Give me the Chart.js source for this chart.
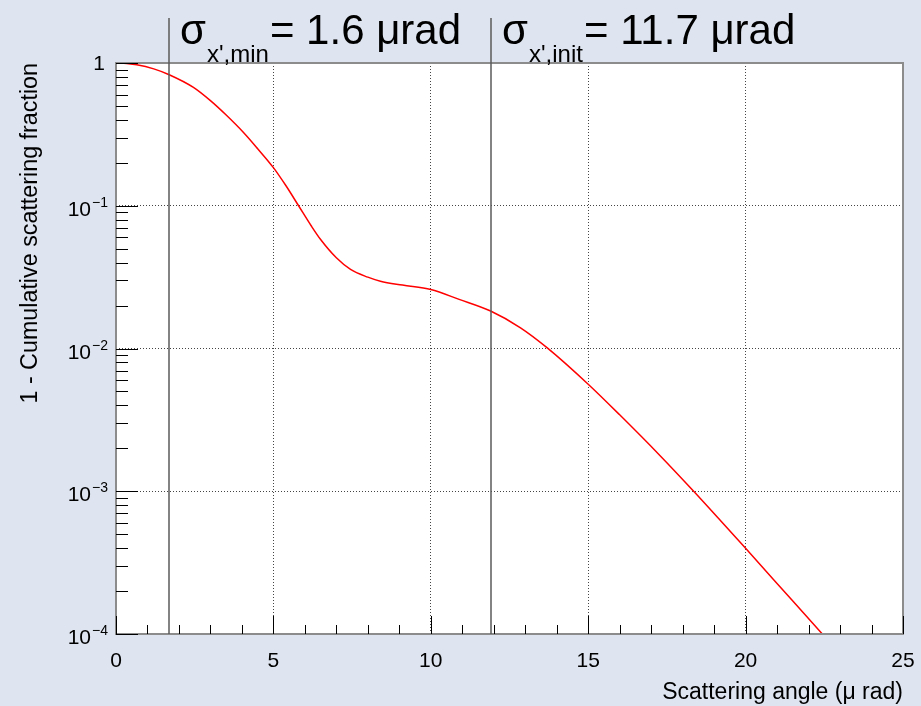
<!DOCTYPE html>
<html>
<head>
<meta charset="utf-8">
<script src="https://cdn.jsdelivr.net/npm/chart.js@4.4.1/dist/chart.umd.min.js"></script>
<style>
  html, body { margin: 0; padding: 0; background: #dfe5f0; }
  canvas { display: block; }
</style>
</head>
<body>
<canvas id="grafico" width="921" height="706"></canvas>
<script>
// scattering angle (µrad) and 1 - cumulative scattering fraction
const scatteringAngle = [0.18, 0.66, 1.2, 1.69, 2.46, 3.0, 3.5, 4.05, 4.5, 5.0,
	5.4, 5.8, 6.2, 6.5, 7.0, 7.45, 8.0, 8.4, 9.1, 10.0,
	10.9, 11.9, 12.85, 13.7, 15.0, 16.0, 17.3, 18.35, 19.2, 20.0,
	21.5, 22.5, 23.0];
const cumulativeFraction = [1.0, 0.972, 0.91, 0.828, 0.675, 0.545, 0.432, 0.326, 0.251, 0.185,
	0.138, 0.1, 0.0724, 0.058, 0.0432, 0.0358, 0.0316, 0.0296, 0.0278, 0.0259,
	0.0221, 0.0183, 0.01397, 0.0101, 0.00562, 0.00343, 0.00176, 0.001, 0.000624, 0.000398,
	0.00017, 0.0000965, 0.0000725];

const xTicks = [0, 5, 10, 15, 20, 25];
const yDecades = [1e-4, 1e-3, 1e-2, 1e-1, 1];

// marker lines with their labels
const markerAngles = [1.68, 11.9];
const markerSubs = ["x',min", "x',init"];
const markerTexts = ['= 1.6 \u03bcrad', '= 11.7 \u03bcrad'];

const FONT = '"Liberation Sans", Arial, sans-serif';
Chart.defaults.font.family = FONT;
Chart.defaults.color = '#000';

const rootStyle = {
	id: 'rootStyle',
	beforeDraw(chart) {
		const { ctx, chartArea: a } = chart;
		ctx.save();
		ctx.fillStyle = '#ffffff';
		ctx.fillRect(a.left, a.top, a.right - a.left, a.bottom - a.top);
		ctx.restore();
	},
	afterDraw(chart) {
		const { ctx, chartArea: a } = chart;
		const xs = chart.scales.x;
		const ys = chart.scales.y;
		ctx.save();

		// frame
		ctx.strokeStyle = '#8c8c8c';
		ctx.lineWidth = 2;
		ctx.strokeRect(a.left, a.top, a.right - a.left, a.bottom - a.top);

		// ticks drawn inside the frame
		ctx.strokeStyle = '#000';
		ctx.lineWidth = 1;
		ctx.beginPath();
		for (let v = 0; v <= 25; v++) {
			const px = Math.round(xs.getPixelForValue(v)) + 0.5;
			const len = v % 5 === 0 ? 18 : 9;
			ctx.moveTo(px, a.bottom);
			ctx.lineTo(px, a.bottom - len);
		}
		for (let d = -4; d <= 0; d++) {
			const py = Math.round(ys.getPixelForValue(Math.pow(10, d))) + 0.5;
			ctx.moveTo(a.left, py);
			ctx.lineTo(a.left + 22, py);
			if (d < 0) {
				for (let k = 2; k <= 9; k++) {
					const pm = Math.round(ys.getPixelForValue(k * Math.pow(10, d))) + 0.5;
					ctx.moveTo(a.left, pm);
					ctx.lineTo(a.left + 12, pm);
				}
			}
		}
		ctx.stroke();

		// y tick labels with exponents
		ctx.fillStyle = '#000';
		ctx.textAlign = 'right';
		ctx.textBaseline = 'alphabetic';
		yDecades.forEach(v => {
			const py = ys.getPixelForValue(v);
			const exp = Math.round(Math.log10(v));
			if (exp === 0) {
				ctx.font = '21px ' + FONT;
				ctx.fillText('1', 105, py + 7);
			} else {
				ctx.font = '14px ' + FONT;
				const e = '\u2212' + (-exp);
				const w = ctx.measureText(e).width;
				ctx.fillText(e, 108, py + 1);
				ctx.font = '21px ' + FONT;
				ctx.fillText('10', 108 - w - 1, py + 10);
			}
		});

		// vertical marker lines and labels
		ctx.strokeStyle = '#5a5a5a';
		ctx.lineWidth = 1.5;
		ctx.textAlign = 'left';
		markerAngles.forEach((m, i) => {
			const px = Math.round(xs.getPixelForValue(m));
			ctx.beginPath();
			ctx.moveTo(px, 18);
			ctx.lineTo(px, a.bottom);
			ctx.stroke();

			ctx.font = '42px ' + FONT;
			ctx.fillText('\u03c3', px + 11, 44);
			ctx.font = '24px ' + FONT;
			ctx.fillText(markerSubs[i], px + 38, 62);
			const sw = ctx.measureText(markerSubs[i]).width;
			ctx.font = '42px ' + FONT;
			ctx.fillText(markerTexts[i], px + 38 + sw + 1, 44);
		});
		ctx.restore();
	}
};

let ctx = document.getElementById('grafico').getContext('2d');

let graficoScattering = new Chart(ctx, {
	type: 'line',
	data: {
		datasets: [{
			data: scatteringAngle.map((x, i) => ({ x: x, y: cumulativeFraction[i] })),
			borderColor: '#ff0000',
			borderWidth: 1.5,
			pointRadius: 0,
			cubicInterpolationMode: 'monotone',
			fill: false
		}]
	},
	options: {
		responsive: false,
		animation: false,
		devicePixelRatio: 1,
		layout: { padding: { top: 63, right: 18, left: 0, bottom: 0 } },
		plugins: {
			legend: { display: false },
			tooltip: { enabled: false }
		},
		scales: {
			x: {
				type: 'linear',
				min: 0,
				max: 25,
				afterFit(scale) {
					scale.height = 72;
					scale.paddingLeft = 0;
					scale.paddingRight = 0;
				},
				afterBuildTicks(scale) { scale.ticks = xTicks.map(v => ({ value: v })); },
				grid: { color: '#444', lineWidth: 1, drawTicks: false },
				border: { display: false, dash: [1, 2] },
				ticks: { font: { size: 21 }, padding: 15, maxRotation: 0 },
				title: {
					display: true,
					text: 'Scattering angle (\u03bc rad)',
					align: 'end',
					font: { size: 23 },
					padding: { top: 0, bottom: 0 }
				}
			},
			y: {
				type: 'logarithmic',
				min: 1e-4,
				max: 1,
				afterFit(scale) {
					scale.width = 116;
					scale.paddingTop = 0;
					scale.paddingBottom = 0;
				},
				afterBuildTicks(scale) { scale.ticks = yDecades.map(v => ({ value: v })); },
				grid: { color: '#444', lineWidth: 1, drawTicks: false },
				border: { display: false, dash: [1, 2] },
				ticks: { display: false },
				title: {
					display: true,
					text: '1 - Cumulative scattering fraction',
					align: 'end',
					font: { size: 23.3 },
					padding: { top: 17, bottom: 0 }
				}
			}
		}
	},
	plugins: [rootStyle]
});
</script>
</body>
</html>
